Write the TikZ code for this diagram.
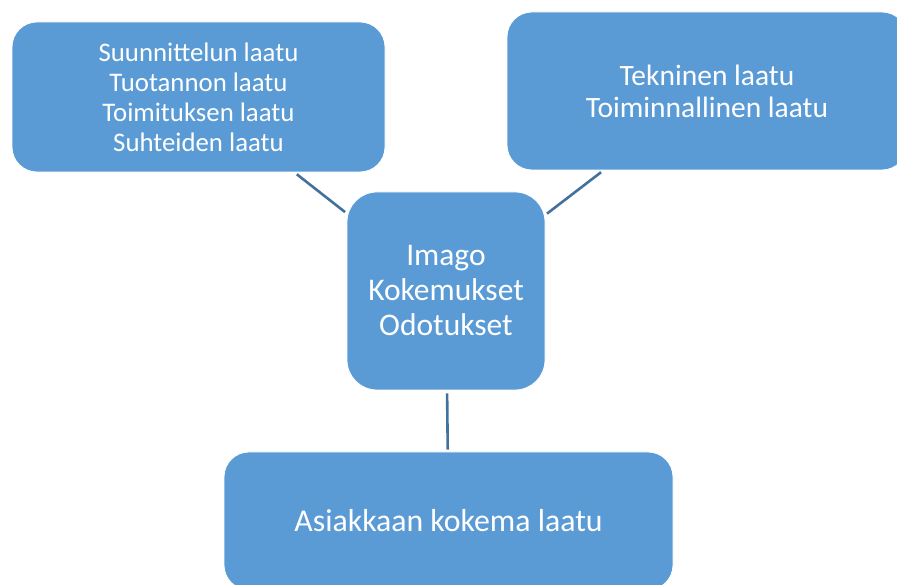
\documentclass[tikz,border=0pt]{standalone}
\usepackage{fontspec}
\setmainfont{Carlito}
\usepackage{tikz}
\usetikzlibrary{calc}

\begin{document}
\begin{tikzpicture}[line cap=round,line join=round,x=1pt,y=1pt,
  laatubox/.style={draw=white,line width=0.8pt,fill=boxblue,text=white,align=center,
    inner sep=0pt,rounded corners=25pt},
  yhteys/.style={color=lineblue,line width=2.6pt,line cap=butt,shorten <=3pt,shorten >=2pt}]
\definecolor{boxblue}{rgb}{0.3568627450980392,0.6078431372549019,0.8352941176470589}
\definecolor{lineblue}{rgb}{0.2549019607843137,0.44313725490196076,0.611764705882353}

\useasboundingbox (0,0) rectangle (897,585);
%\draw [help lines,step=50] (0,0) grid (897,585);
\node [laatubox,minimum width=373,minimum height=150,font=\fontsize{26.8}{30}\selectfont] (tuotanto) at (198.5,488)
  {Suunnittelun laatu\\Tuotannon laatu\\Toimituksen laatu\\Suhteiden laatu};
\node [laatubox,minimum width=400,minimum height=158,font=\fontsize{29.5}{32}\selectfont] (tekninen) at (707,494)
  {Tekninen laatu\\Toiminnallinen laatu};
\node [laatubox,minimum width=198,minimum height=198,rounded corners=30pt,font=\fontsize{31.5}{35}\selectfont] (imago) at (446,294)
  {Imago\\Kokemukset\\Odotukset};
\node [laatubox,minimum width=449,minimum height=138,font=\fontsize{31.8}{35}\selectfont] (asiakas) at (448.5,64)
  {Asiakkaan kokema laatu};

\draw [yhteys] (tuotanto) -- (imago);
\draw [yhteys] (tekninen) -- (imago);
\draw [yhteys] (imago) -- (asiakas);
\end{tikzpicture}
\end{document}
